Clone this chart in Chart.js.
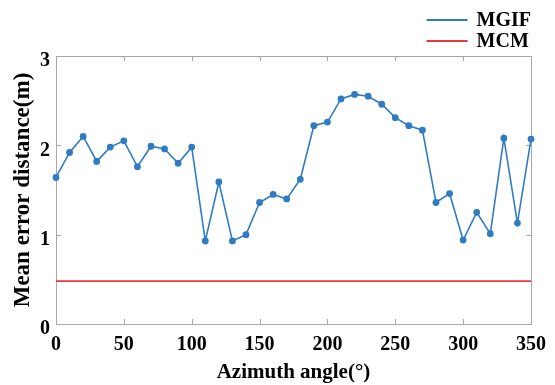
<!DOCTYPE html>
<html>
<head>
<meta charset="utf-8">
<script src="https://cdn.jsdelivr.net/npm/chart.js@4.4.1/dist/chart.umd.min.js"></script>
<style>
  html, body { margin: 0; padding: 0; background: #fff; }
  #wrap { width: 555px; height: 385px; }
</style>
</head>
<body>
<div id="wrap"><canvas id="grafico" width="555" height="385"></canvas></div>
<script>
const angulos = [0, 10, 20, 30, 40, 50, 60, 70, 80, 90, 100, 110, 120, 130, 140, 150, 160, 170,
  180, 190, 200, 210, 220, 230, 240, 250, 260, 270, 280, 290, 300, 310, 320, 330, 340, 350];
const mgif = [1.64, 1.92, 2.10, 1.82, 1.98, 2.05, 1.76, 1.99, 1.96, 1.80, 1.98, 0.93, 1.59, 0.93,
  1.00, 1.36, 1.45, 1.40, 1.62, 2.22, 2.26, 2.52, 2.57, 2.55, 2.46, 2.31, 2.22, 2.17, 1.36, 1.46,
  0.94, 1.25, 1.01, 2.08, 1.13, 2.07];
const mcmAngulos = [0, 350];
const mcm = [0.48, 0.48];
const xTicks = [0, 50, 100, 150, 200, 250, 300, 350];
const yTicks = [0, 1, 2, 3];

const fuente = '"Liberation Serif", "Times New Roman", serif';
const azul = "#2f7cc2";
const rojo = "#e5383b";

// marco con ticks hacia dentro, estilo MATLAB
const marco = {
  id: "marco",
  beforeDatasetsDraw(chart) {
    const { ctx, chartArea: a, scales } = chart;
    const largo = 5;
    ctx.save();
    ctx.strokeStyle = "#a8a8a8";
    ctx.lineWidth = 1;
    ctx.strokeRect(a.left + 0.5, a.top + 0.5, a.right - a.left, a.bottom - a.top);
    ctx.beginPath();
    xTicks.forEach(v => {
      const x = Math.round(scales.x.getPixelForValue(v)) + 0.5;
      ctx.moveTo(x, a.bottom); ctx.lineTo(x, a.bottom - largo);
      ctx.moveTo(x, a.top); ctx.lineTo(x, a.top + largo);
    });
    yTicks.forEach(v => {
      const y = Math.round(scales.y.getPixelForValue(v)) + 0.5;
      ctx.moveTo(a.left, y); ctx.lineTo(a.left + largo, y);
      ctx.moveTo(a.right, y); ctx.lineTo(a.right - largo, y);
    });
    ctx.stroke();
    ctx.restore();
  }
};

// leyenda vertical arriba a la derecha
const leyenda = {
  id: "leyenda",
  afterDraw(chart) {
    const { ctx, chartArea: a } = chart;
    const sets = chart.data.datasets;
    ctx.save();
    ctx.font = "bold 20px " + fuente;
    const ancho = Math.max(...sets.map(d => ctx.measureText(d.label).width));
    const xTexto = a.right - ancho;
    sets.forEach((d, i) => {
      const y = 20 + i * 21;
      ctx.strokeStyle = d.borderColor;
      ctx.lineWidth = 2;
      ctx.beginPath();
      ctx.moveTo(xTexto - 50, y);
      ctx.lineTo(xTexto - 9, y);
      ctx.stroke();
      ctx.fillStyle = "#000";
      ctx.textBaseline = "middle";
      ctx.fillText(d.label, xTexto, y + 1);
    });
    ctx.restore();
  }
};

new Chart(document.getElementById("grafico"), {
  type: "line",
  data: {
    datasets: [
      {
        label: "MGIF",
        data: angulos.map((a, i) => ({ x: a, y: mgif[i] })),
        borderColor: azul,
        backgroundColor: azul,
        borderWidth: 1.6,
        pointRadius: 2.6,
        pointHoverRadius: 2.6,
        tension: 0,
        clip: false
      },
      {
        label: "MCM",
        data: mcmAngulos.map((a, i) => ({ x: a, y: mcm[i] })),
        borderColor: rojo,
        backgroundColor: rojo,
        borderWidth: 1.8,
        pointRadius: 0,
        tension: 0
      }
    ]
  },
  options: {
    responsive: false,
    animation: false,
    devicePixelRatio: 1,
    layout: { padding: { left: 0, right: 23, top: 56, bottom: 0 } },
    plugins: { legend: { display: false }, tooltip: { enabled: false } },
    scales: {
      x: {
        type: "linear",
        min: 0,
        max: 350,
        afterFit: s => { s.height = 61; },
        afterBuildTicks: s => { s.ticks = xTicks.map(v => ({ value: v })); },
        grid: { display: false, drawTicks: false },
        border: { display: false },
        ticks: { color: "#000", padding: 9, maxRotation: 0, font: { family: fuente, size: 20, weight: "bold" } },
        title: {
          display: true,
          text: "Azimuth angle(°)",
          color: "#000",
          padding: { top: 0, bottom: 0 },
          font: { family: fuente, size: 21, weight: "bold" }
        }
      },
      y: {
        min: 0,
        max: 3,
        afterFit: s => { s.width = 56; },
        afterBuildTicks: s => { s.ticks = yTicks.map(v => ({ value: v })); },
        grid: { display: false, drawTicks: false },
        border: { display: false },
        ticks: {
          color: "#000",
          padding: 6,
          // linea vacia para bajar un poco el numero, como en MATLAB
          callback: v => ["", String(v)],
          font: { family: fuente, size: 20, weight: "bold", lineHeight: 0.5 }
        },
        title: {
          display: true,
          text: "Mean error distance(m)",
          color: "#000",
          padding: { top: 9, bottom: 0 },
          font: { family: fuente, size: 23, weight: "bold" }
        }
      }
    }
  },
  plugins: [marco, leyenda]
});
</script>
</body>
</html>
